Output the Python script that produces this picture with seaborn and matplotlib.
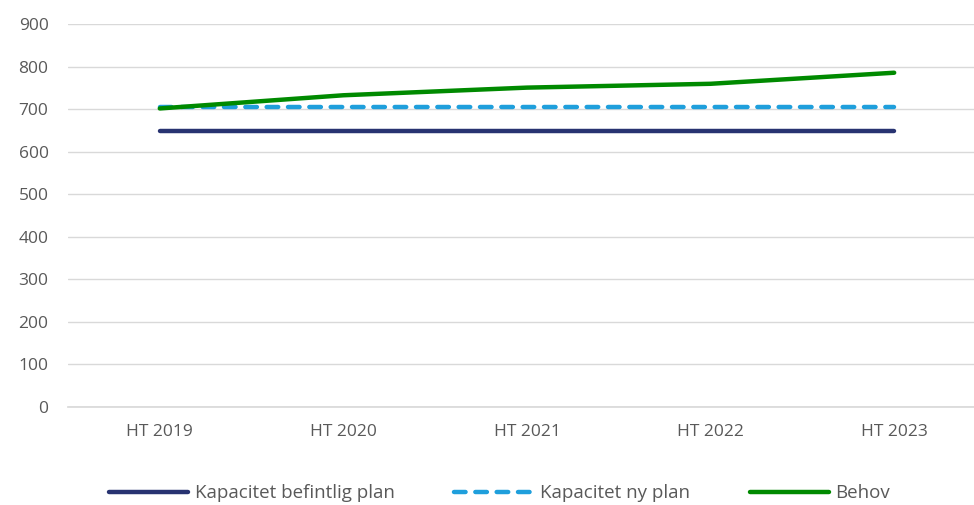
import pandas as pd
import matplotlib.pyplot as plt
import seaborn as sns

# data
periods = ["HT 2019", "HT 2020", "HT 2021", "HT 2022", "HT 2023"]
kapacitet_befintlig = [650, 650, 650, 650, 650]
kapacitet_ny = [706, 706, 706, 706, 706]
behov = [702, 733, 751, 760, 786]

series_names = ["Kapacitet befintlig plan", "Kapacitet ny plan", "Behov"]
colors = ["#283371", "#1F9FDC", "#008A00"]

df = pd.DataFrame({
    "Period": periods * 3,
    "Value": kapacitet_befintlig + kapacitet_ny + behov,
    "Serie": [s for s in series_names for _ in periods],
})
df["x"] = df["Period"].map({p: i for i, p in enumerate(periods)})

sns.set_theme(style="white")
plt.rcParams["font.family"] = ["Open Sans", "DejaVu Sans"]

fig = plt.figure(figsize=(9.74, 5.05), dpi=100)
ax = fig.add_axes([0.0698, 0.194, 0.9425, 0.758])

sns.lineplot(data=df, x="x", y="Value", hue="Serie", style="Serie",
             hue_order=series_names, style_order=series_names,
             palette=colors,
             dashes={"Kapacitet befintlig plan": "",
                     "Kapacitet ny plan": (2.6, 2.2),
                     "Behov": ""},
             linewidth=3.2, ax=ax, legend=True)
for line in ax.get_lines():
    line.set_solid_capstyle("round")
    line.set_dash_capstyle("round")

ax.set_xlim(-0.5, 4.5)
ax.set_ylim(0, 900)
ax.set_yticks(range(0, 901, 100))
ax.set_xticks(range(len(periods)))
ax.set_xticklabels(periods)
ax.set_xlabel("")
ax.set_ylabel("")
ax.grid(axis="y", color="#D9D9D9", linewidth=1)
ax.grid(axis="x", visible=False)
for s in ["top", "right", "left"]:
    ax.spines[s].set_visible(False)
ax.spines["bottom"].set_color("#D9D9D9")
ax.tick_params(axis="both", colors="#595959", labelsize=12.5, length=0)
ax.tick_params(axis="y", pad=14)
ax.tick_params(axis="x", pad=12)

handles, labels = ax.get_legend_handles_labels()
leg = ax.legend(handles, labels, loc="center", bbox_to_anchor=(0.5 - 0.0698 / 2 + 0.005, -0.225),
                ncol=3, frameon=False, fontsize=13.5, handlelength=4.2,
                handletextpad=0.35, columnspacing=3.2, labelcolor="#595959")
for h in leg.get_lines():
    h.set_solid_capstyle("round")
    h.set_dash_capstyle("round")

fig.savefig("out.png", dpi=100)
